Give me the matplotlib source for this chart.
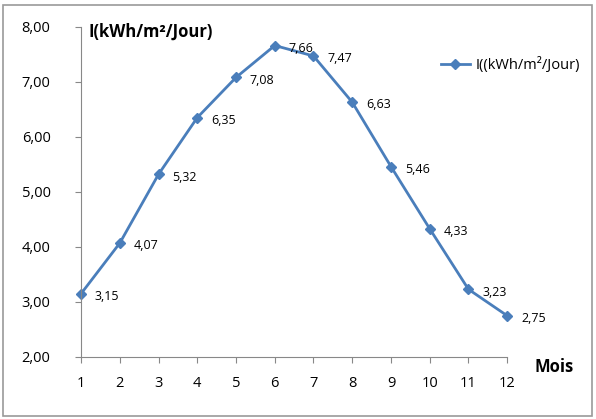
import matplotlib.pyplot as plt
from matplotlib.patches import Rectangle

# données mensuelles
mois = [1, 2, 3, 4, 5, 6, 7, 8, 9, 10, 11, 12]
irr = [3.15, 4.07, 5.32, 6.35, 7.08, 7.66, 7.47, 6.63, 5.46, 4.33, 3.23, 2.75]
yticks = [2, 3, 4, 5, 6, 7, 8]

plt.rcParams['font.family'] = ['Open Sans', 'DejaVu Sans']
col = '#4A7EBB'

fig = plt.figure(figsize=(5.96, 4.19), dpi=100)
ax = fig.add_axes([0.136, 0.148, 0.715, 0.788])
fig.patches.append(Rectangle((0.005, 0.007), 0.988, 0.982, transform=fig.transFigure,
                             fill=False, edgecolor='#9a9a9a', linewidth=1.2))

ax.plot(mois, irr, color=col, linewidth=2, marker='D', markersize=5,
        label='I((kWh/m²/Jour)', clip_on=False)
for x, y in zip(mois, irr):
    ax.annotate(f'{y:.2f}'.replace('.', ','), (x, y), xytext=(10, -2),
                textcoords='offset points', fontsize=9, va='center', ha='left')

ax.set_xlim(1, 12)
ax.set_ylim(2, 8)
ax.set_xticks(mois)
ax.set_yticks(yticks)
ax.set_yticklabels([f'{t:.2f}'.replace('.', ',') for t in yticks])
ax.tick_params(axis='both', labelsize=10.5, color='#888888', length=4)
ax.tick_params(axis='x', pad=10)
ax.tick_params(axis='y', pad=18)
for s in ['top', 'right']:
    ax.spines[s].set_visible(False)
for s in ['left', 'bottom']:
    ax.spines[s].set_color('#888888')

fig.text(0.148, 0.925, 'I(kWh/m²/Jour)', fontsize=12, fontweight='bold', va='center')
fig.text(0.897, 0.123, 'Mois', fontsize=12, fontweight='bold', va='center')

fig.legend(loc='center left', bbox_to_anchor=(0.73, 0.845), frameon=False, fontsize=10.5,
           handlelength=2.0, handletextpad=0.4, borderaxespad=0.0)

fig.savefig('out.png', dpi=100)
